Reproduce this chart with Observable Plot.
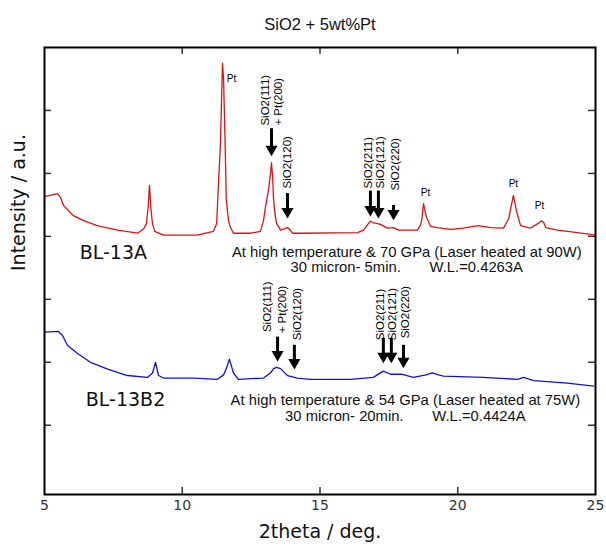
<!DOCTYPE html>
<html><head><meta charset="utf-8">
<script src="https://cdn.jsdelivr.net/npm/d3@7"></script>
<script src="https://cdn.jsdelivr.net/npm/@observablehq/plot@0.6"></script>
<style>body{margin:0;background:#fff}</style>
</head><body><div id="chart"></div>
<script>
// BL-13A (red) trace: 2theta, intensity (a.u.)
const redX = [5.0,5.2,5.47,5.58,5.69,6.05,6.42,6.92,7.65,8.38,8.6,8.7,8.76,8.81,8.86,8.92,9.0,9.32,10.55,11.13,11.25,11.32,11.38,11.42,11.46,11.5,11.55,11.60,11.68,11.75,11.86,12.48,12.84,12.95,13.02,13.13,13.2,13.24,13.28,13.31,13.36,13.42,13.57,13.7,13.82,13.92,14.0,14.29,16.36,16.58,16.75,16.83,16.92,17.01,17.2,17.45,17.67,17.85,18.54,18.65,18.69,18.76,18.82,18.87,19.01,19.26,19.74,20.2,20.75,21.19,21.66,21.85,21.95,22.02,22.08,22.13,22.28,22.64,22.93,23.04,23.12,23.19,23.62,24.35,25.0];
const redY = [4.63,4.65,4.68,4.62,4.49,4.33,4.25,4.17,4.10,4.05,4.12,4.20,4.45,4.81,4.45,4.20,4.08,4.02,4.02,4.08,4.20,4.89,5.40,6.05,6.75,6.50,5.60,4.57,4.25,4.14,4.05,4.05,4.08,4.25,4.46,4.73,4.98,5.17,4.95,4.62,4.38,4.21,4.10,4.12,4.14,4.10,4.05,4.05,4.06,4.10,4.20,4.24,4.22,4.21,4.19,4.13,4.14,4.10,4.10,4.18,4.25,4.52,4.38,4.30,4.16,4.14,4.11,4.13,4.17,4.14,4.13,4.28,4.50,4.65,4.52,4.41,4.17,4.13,4.21,4.25,4.22,4.14,4.10,4.06,4.02];
// BL-13B2 (blue) trace
const blueX = [5.0,5.5,5.65,5.83,6.2,6.67,7.29,8.01,8.74,8.92,8.98,9.03,9.08,9.14,9.32,10.41,11.28,11.5,11.6,11.71,11.8,11.86,12.04,12.95,13.2,13.32,13.42,13.57,13.7,13.82,14.18,14.65,16.1,16.94,17.15,17.3,17.56,17.99,18.39,18.85,19.08,19.3,19.48,20.93,22.17,22.39,22.75,23.98,24.93];
const blueY = [2.48,2.49,2.43,2.27,2.14,2.00,1.89,1.79,1.76,1.83,1.92,2.00,1.90,1.79,1.75,1.75,1.73,1.80,1.90,2.05,1.92,1.83,1.73,1.75,1.83,1.90,1.92,1.90,1.84,1.79,1.75,1.73,1.73,1.76,1.82,1.86,1.81,1.81,1.76,1.80,1.83,1.80,1.78,1.76,1.73,1.76,1.71,1.67,1.62];

// arrows: x, top, tip
const arrowX    = [13.24,13.82,16.83,17.12,17.67, 13.46,14.07,17.30,17.59,18.03];
const arrowTop  = [5.71,4.68,4.72,4.72,4.49, 2.40,2.27,2.38,2.38,2.27];
const arrowTip  = [5.29,4.30,4.33,4.30,4.27, 2.03,1.90,2.00,2.00,1.92];

// rotated peak labels
const peakText = ["SiO2(111)","+ Pt(200)","SiO2(120)","SiO2(211)","SiO2(121)","SiO2(220)",
                  "SiO2(111)","+ Pt(200)","SiO2(120)","SiO2(211)","SiO2(121)","SiO2(220)"];
const peakX = [13.02,13.49,13.82,16.76,17.2,17.74, 13.09,13.64,14.18,17.2,17.63,18.1];
const peakY = [5.76,5.76,4.76,4.76,4.76,4.73, 2.48,2.46,2.35,2.35,2.35,2.38];

// Pt labels
const ptX = [11.79,18.83,22.02,22.97];
const ptY = [6.51,4.70,4.84,4.48];

const sampleNames = ["BL-13A","BL-13B2"];
const sampleX = [7.5,7.94];
const sampleY = [3.73,1.40];

const noteText = ["At high temperature & 70 GPa (Laser heated at 90W)",
                  "30 micron- 5min.\u00a0\u00a0\u00a0\u00a0\u00a0\u00a0\u00a0W.L.=0.4263A",
                  "At high temperature & 54 GPa (Laser heated at 75W)",
                  "30 micron- 20min.\u00a0\u00a0\u00a0\u00a0\u00a0\u00a0\u00a0W.L.=0.4424A"];
const noteX = [18.15,18.15,18.1,18.1];
const noteY = [3.75,3.51,1.40,1.15];

const xTickValues = [5,10,15,20,25];
const xInnerTicks = [10,15,20];
const yTicks = [1,2,3,4,5,6];

const red = redX.map((x,i)=>({x, y: redY[i]}));
const blue = blueX.map((x,i)=>({x, y: blueY[i]}));
const arrows = arrowX.map((x,i)=>({x, top: arrowTop[i], tip: arrowTip[i]}));
const peaks = peakText.map((t,i)=>({t, x: peakX[i], y: peakY[i]}));
const pts = ptX.map((x,i)=>({x, y: ptY[i]}));
const samples = sampleNames.map((t,i)=>({t, x: sampleX[i], y: sampleY[i]}));
const notes = noteText.map((t,i)=>({t, x: noteX[i], y: noteY[i]}));

const W = 606, H = 549, mL = 44, mR = 11, mT = 47, mB = 55;
const fw = W - mL - mR, fh = H - mT - mB;

const chart = Plot.plot({
  width: W, height: H,
  marginLeft: mL, marginRight: mR, marginTop: mT, marginBottom: mB,
  style: {fontFamily: "'Liberation Sans', Arial, sans-serif", background: "#fff"},
  x: {domain: [5,25], axis: null},
  y: {domain: [-0.1, 7], axis: null},
  marks: [
    Plot.ruleY(yTicks, {insetRight: fw - 7, stroke: "#333", strokeWidth: 1.5}),
    Plot.ruleY(yTicks, {insetLeft: fw - 7, stroke: "#333", strokeWidth: 1.5}),
    Plot.ruleX(xInnerTicks, {insetTop: fh - 7, stroke: "#333", strokeWidth: 1.5}),
    Plot.ruleX(xInnerTicks, {insetBottom: fh - 7, stroke: "#333", strokeWidth: 1.5}),
    Plot.line(red, {x: "x", y: "y", stroke: "#e01010", strokeWidth: 1.3}),
    Plot.line(blue, {x: "x", y: "y", stroke: "#1010e0", strokeWidth: 1.3}),
    Plot.ruleX(arrows, {x: "x", y1: "top", y2: "tip", insetBottom: 5, stroke: "black", strokeWidth: 3}),
    Plot.dot(arrows, {x: "x", y: "tip", symbol: "triangle", r: 4.5, rotate: 180, fill: "black", stroke: "none", dy: -6}),
    Plot.text(peaks, {x: "x", y: "y", text: "t", rotate: -90, textAnchor: "start", fontSize: 11.5, fill: "black"}),
    Plot.text(pts, {x: "x", y: "y", text: () => "Pt", fontSize: 10, fill: "black"}),
    Plot.text(samples, {x: "x", y: "y", text: "t", fontSize: 19, fill: "#111", fontFamily: "'DejaVu Sans', sans-serif"}),
    Plot.text(notes, {x: "x", y: "y", text: "t", fontSize: 14.8, fill: "#111"}),
    Plot.frame({stroke: "black", strokeWidth: 2}),
    Plot.text(xTickValues, {x: d => d, frameAnchor: "bottom", dy: 15, fontSize: 14, fill: "#333", fontFamily: "'DejaVu Sans', sans-serif"}),
    Plot.text(["2theta / deg."], {frameAnchor: "bottom", dy: 43, fontSize: 19, fill: "#111", fontFamily: "'DejaVu Sans', sans-serif"}),
    Plot.text(["Intensity / a.u."], {frameAnchor: "left", dx: -26, rotate: -90, fontSize: 19, fill: "#111", fontFamily: "'DejaVu Sans', sans-serif"}),
    Plot.text(["SiO2 + 5wt%Pt"], {frameAnchor: "top", dy: -29, fontSize: 16.5, fill: "#111"})
  ]
});
document.getElementById("chart").append(chart);
</script>
</body></html>
